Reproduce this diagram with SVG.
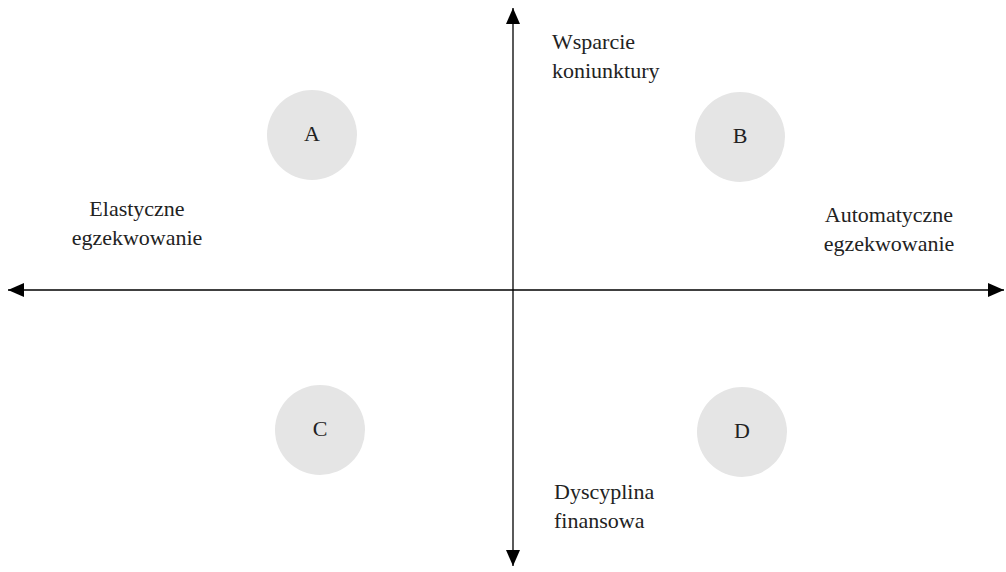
<svg xmlns="http://www.w3.org/2000/svg" width="1006" height="572" viewBox="0 0 1006 572">
<defs>
<style>
.c{fill:#e5e5e5}
.t{font-family:"Liberation Serif","Times New Roman",serif;font-size:22px;fill:#222}
.ax{stroke:#000;stroke-width:1.3;fill:none}
</style>
<marker id="ah" viewBox="0 0 16 14" refX="16" refY="7" markerWidth="16" markerHeight="14" markerUnits="userSpaceOnUse" orient="auto-start-reverse">
<path d="M0,0 L16,7 L0,14 Z" fill="#000"/>
</marker>
</defs>
<rect width="1006" height="572" fill="#fff"/>
<g id="connectors">
<line class="ax" x1="513" y1="566" x2="513" y2="8" marker-start="url(#ah)" marker-end="url(#ah)"/>
<line class="ax" x1="8" y1="290" x2="1004" y2="290" marker-start="url(#ah)" marker-end="url(#ah)"/>
</g>
<g id="node-A"><circle class="c" cx="312" cy="135" r="45"/><text class="t" x="312" y="141" text-anchor="middle">A</text></g>
<g id="node-B"><circle class="c" cx="740" cy="137" r="45"/><text class="t" x="740" y="143" text-anchor="middle">B</text></g>
<g id="node-C"><circle class="c" cx="320" cy="430" r="45"/><text class="t" x="320" y="436" text-anchor="middle">C</text></g>
<g id="node-D"><circle class="c" cx="742" cy="432" r="45"/><text class="t" x="742" y="438" text-anchor="middle">D</text></g>
<g id="label-top"><text class="t" x="552" y="49">Wsparcie</text><text class="t" x="552" y="78">koniunktury</text></g>
<g id="label-left"><text class="t" x="137" y="216" text-anchor="middle">Elastyczne</text><text class="t" x="137" y="245" text-anchor="middle">egzekwowanie</text></g>
<g id="label-right"><text class="t" x="889" y="222" text-anchor="middle">Automatyczne</text><text class="t" x="889" y="251" text-anchor="middle">egzekwowanie</text></g>
<g id="label-bottom"><text class="t" x="554" y="499">Dyscyplina</text><text class="t" x="554" y="528">finansowa</text></g>
</svg>
